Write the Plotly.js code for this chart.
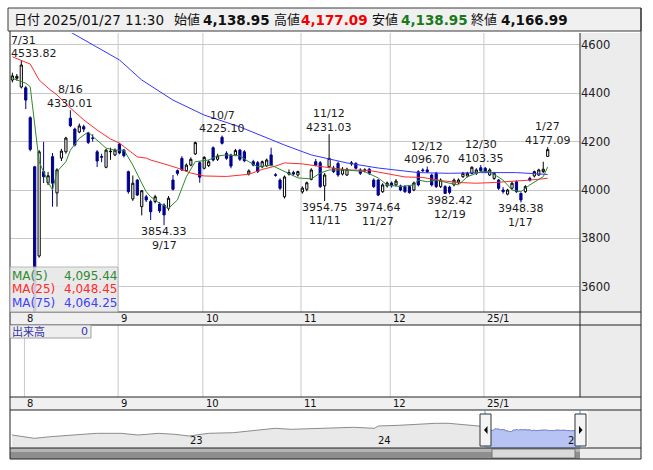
<!DOCTYPE html>
<html><head><meta charset="utf-8">
<script src="https://cdn.plot.ly/plotly-3.0.1.min.js"></script>
<style>html,body{margin:0;padding:0;background:#fff;}#chart{width:653px;height:470px;}</style>
</head><body><div id="chart"></div>
<script>
// ---------- data ----------
const dates = ['2024-07-29','2024-07-30','2024-07-31',
'2024-08-01','2024-08-02','2024-08-05','2024-08-06','2024-08-07','2024-08-08','2024-08-09','2024-08-13','2024-08-14','2024-08-15','2024-08-16','2024-08-19','2024-08-20','2024-08-21','2024-08-22','2024-08-23','2024-08-26','2024-08-27','2024-08-28','2024-08-29','2024-08-30',
'2024-09-02','2024-09-03','2024-09-04','2024-09-05','2024-09-06','2024-09-09','2024-09-10','2024-09-11','2024-09-12','2024-09-13','2024-09-17','2024-09-18','2024-09-19','2024-09-20','2024-09-24','2024-09-25','2024-09-26','2024-09-27','2024-09-30',
'2024-10-01','2024-10-02','2024-10-03','2024-10-04','2024-10-07','2024-10-08','2024-10-09','2024-10-10','2024-10-11','2024-10-15','2024-10-16','2024-10-17','2024-10-18','2024-10-21','2024-10-22','2024-10-23','2024-10-24','2024-10-25','2024-10-28','2024-10-29','2024-10-30','2024-10-31',
'2024-11-01','2024-11-05','2024-11-06','2024-11-07','2024-11-08','2024-11-11','2024-11-12','2024-11-13','2024-11-14','2024-11-15','2024-11-18','2024-11-19','2024-11-20','2024-11-21','2024-11-22','2024-11-25','2024-11-26','2024-11-27','2024-11-28','2024-11-29',
'2024-12-02','2024-12-03','2024-12-04','2024-12-05','2024-12-06','2024-12-09','2024-12-10','2024-12-11','2024-12-12','2024-12-13','2024-12-16','2024-12-17','2024-12-18','2024-12-19','2024-12-20','2024-12-23','2024-12-24','2024-12-25','2024-12-26','2024-12-27','2024-12-30',
'2025-01-06','2025-01-07','2025-01-08','2025-01-09','2025-01-10','2025-01-14','2025-01-15','2025-01-16','2025-01-17','2025-01-20','2025-01-21','2025-01-22','2025-01-23','2025-01-24','2025-01-27'];

const open = [4455,4462,4426, 4423,4299,4096,3727,4076,4030,4138,3988,4132,4158,4297,4252,4240,4262,4236,4215,4158,4138,4094,4158,4145,
4190,4165,4076,3963,4041,3931,3972,3952,3952,3942,3938,3924,4041,4080,4131,4080,4103,4149,4113,
4090,4101,4175,4127,4218,4152,4145,4145,4165,4158,4066,4117,4113,4096,4100,4145,4063,4041,3972,4066,4072,4062,
3992,4003,4044,4117,4113,4017,4096,4091,4110,4066,4062,4108,4110,4083,4080,4086,4041,4041,3993,4017,
4029,4021,4017,4014,4014,4000,4076,4083,4083,4062,4069,4014,4014,4012,4021,4030,4055,4058,4069,4069,4092,
4090,4062,4048,4041,4000,3983,4007,4034,3986,3993,4048,4058,4062,4076,4138.95];
const high = [4485,4480,4533.82, 4430,4305,4100,4165,4199,4075,4153,4090,4170,4220,4330.01,4258,4275,4270,4240,4230,4165,4150,4170,4175,4172,
4195,4170,4080,4060,4045,4000,3980,3960,3980,3950,3945,3975,4062,4085,4140,4110,4135,4200,4120,
4140,4125,4180,4150,4225.10,4160,4150,4170,4170,4165,4085,4125,4120,4122,4130,4175,4070,4048,4060,4085,4080,4080,
4015,4035,4090,4128,4120,4070,4231.03,4100,4118,4095,4092,4120,4115,4090,4090,4092,4048,4045,4028,4035,
4035,4045,4022,4020,4020,4035,4082,4090,4096.70,4068,4075,4048,4020,4018,4048,4048,4075,4075,4098,4090,4103.35,
4095,4090,4075,4045,4012,4005,4035,4040,3990,4020,4055,4080,4088,4117,4177.09];
const low = [4445,4452,4420, 4335,4160,3400,3720,4029,4020,3931,3931,4120,4150,4260,4180,4235,4240,4190,4200,4095,4115,4090,4125,4140,
4148,4135,3985,3955,3975,3895,3950,3876,3945,3905,3854.33,3915,3998,4060,4078,4075,4098,4145,4030,
4085,4095,4118,4120,4188,4125,4090,4140,4120,4115,4060,4098,4070,4090,4095,4098,4055,4000,3965,4060,4060,4055,
3985,3995,4040,4098,4008,3954.75,4090,4070,4055,4060,4058,4100,4085,4062,4072,4062,4008,3974.64,3988,4010,
4010,4015,3995,3988,3985,3995,4015,4075,4070,4015,4008,4008,3984,3982.42,4015,4025,4050,4052,4065,4062,4075,
4070,4058,4042,4000,3985,3978,4002,3988,3948.38,3988,4035,4052,4058,4070,4138.95];
const close = [4472,4470,4517, 4372,4168,3440,4158,4055,4059,4028,4083,4161,4215,4266,4186,4265,4252,4197,4214,4120,4136,4165,4160,4165,
4153,4142,3993,4028,3979,3997,3959,3910,3972,3914,3897,3966,4003,4069,4083,4103,4127,4196,4053,
4135,4117,4124,4141,4193,4131,4099,4163,4127,4121,4079,4103,4076,4117,4124,4103,4061,4007,4054,4072,4066,4076,
4008,4030,4083,4103,4014,4062,4131,4076,4062,4086,4086,4112,4090,4069,4083,4069,4014,3979,4021,4029,
4017,4037,4000,3993,3989,4029,4021,4080,4076,4021,4014,4041,3986,3990,4041,4041,4069,4069,4094,4083,4080,
4076,4083,4069,4007,3993,4000,4028,3993,3959,4014,4041,4076,4083,4086,4166.99];

const ma5Dates = ['2024-07-29','2024-07-31','2024-08-01','2024-08-02','2024-08-05','2024-08-06','2024-08-08','2024-08-09','2024-08-13','2024-08-15','2024-08-16','2024-08-20','2024-08-22','2024-08-23','2024-08-28','2024-08-30','2024-09-03','2024-09-05','2024-09-09','2024-09-10','2024-09-11','2024-09-13','2024-09-18','2024-09-20','2024-09-25','2024-09-27','2024-10-02','2024-10-04','2024-10-08','2024-10-11','2024-10-16','2024-10-18','2024-10-23','2024-10-28','2024-10-31','2024-11-06','2024-11-08','2024-11-12','2024-11-18','2024-11-22','2024-11-27','2024-11-29','2024-12-04','2024-12-09','2024-12-10','2024-12-12','2024-12-16','2024-12-19','2024-12-23','2024-12-25','2024-12-30','2025-01-07','2025-01-10','2025-01-15','2025-01-17','2025-01-21','2025-01-24','2025-01-27'];
const ma5Vals = [4462,4448,4442,4427,4283,4117,4034,4000,4076,4117,4165,4214,4240,4222,4173,4165,4165,4103,4028,3993,3972,3945,3924,3959,4055,4117,4124,4141,4145,4141,4117,4096,4103,4076,4050,4046,4070,4083,4083,4076,4050,4021,4014,4021,4041,4034,4041,4028,4021,4055,4076,4076,4041,4000,3993,4021,4055,4095.44];

const ma25Dates = ['2024-07-29','2024-07-31','2024-08-02','2024-08-05','2024-08-06','2024-08-08','2024-08-13','2024-08-16','2024-08-21','2024-08-26','2024-08-29','2024-09-02','2024-09-04','2024-09-06','2024-09-10','2024-09-11','2024-09-17','2024-09-20','2024-09-26','2024-10-01','2024-10-08','2024-10-16','2024-10-21','2024-10-24','2024-10-28','2024-11-01','2024-11-11','2024-11-18','2024-11-25','2024-11-29','2024-12-05','2024-12-11','2024-12-17','2024-12-23','2024-12-27','2025-01-08','2025-01-15','2025-01-21','2025-01-27'];
const ma25Vals = [4551,4535,4521,4488,4455,4422,4393,4339,4290,4248,4211,4194,4165,4137,4132,4124,4108,4091,4070,4058,4056,4065,4085,4099,4112,4108,4095,4083,4081,4066,4054,4052,4039,4031,4028,4031,4035,4041,4048.45];

const ma75Dates = ['2024-07-29','2024-08-07','2024-08-19','2024-09-02','2024-09-09','2024-09-19','2024-10-01','2024-10-11','2024-10-28','2024-11-06','2024-11-18','2024-11-27','2024-12-10','2024-12-19','2024-12-30','2025-01-16','2025-01-27'];
const ma75Vals = [4790,4716,4641,4538,4455,4372,4310,4261,4186,4145,4112,4091,4072,4069,4072,4072,4064.25];

const navDates = ['2022-01-24','2022-02-21','2022-03-08','2022-04-09','2022-05-27','2022-07-06','2022-08-23','2022-09-25','2022-11-03','2022-12-05','2023-01-01','2023-02-08','2023-03-28','2023-05-16','2023-06-17','2023-07-18','2023-09-05','2023-10-07','2023-11-16','2023-12-26','2024-01-03','2024-02-12','2024-03-14','2024-04-23','2024-05-17','2024-06-02','2024-07-13'];
const navVals = [3460,3247,3038,3247,3460,3674,3674,3460,3674,3550,3332,3674,3755,4100,4318,4190,4318,4394,4446,4318,4612,4702,4830,4958,4958,4868,4612];

const yTicks = [3600,3800,4000,4200,4400,4600];
const monthLabels = ['8','9','10','11','12','25/1'];
const monthFirst = ['2024-08-01','2024-09-02','2024-10-01','2024-11-01','2024-12-02','2025-01-06'];
const highMarks = ['2024-07-31','2024-08-16','2024-10-07','2024-11-12','2024-12-12','2024-12-30','2025-01-27'];
const lowMarks = ['2024-09-17','2024-11-11','2024-11-27','2024-12-19','2025-01-17'];
const maLegend = [['MA(5)','4,095.44'],['MA(25)','4,048.45'],['MA(75)','4,064.25']];
const header = {date:'2025/01/27 11:30', open:'4,138.95', high:'4,177.09', low:'4,138.95', close:'4,166.99'};
const navYears = [['2023-01-01','23'],['2024-01-01','24'],['2025-01-01','2']];

// ---------- helpers ----------
const W = 653, H = 470;
const px = x => x / W, py = y => 1 - y / H;
const pos = d => dates.indexOf(d);
const idx = dates.map((d, i) => i);
const FONT = 'DejaVu Sans, Noto Sans CJK JP, sans-serif';
const short = d => { const p = d.split('-'); return (+p[1]) + '/' + (+p[2]); };
const fmt = v => v.toFixed(2);

const cMA5 = '#2f8a2f', cMA25 = '#ff2b2b', cMA75 = '#3535ff', cDown = '#00008f';

const traces = [
  {type:'candlestick', x: idx, open, high, low, close, xaxis:'x', yaxis:'y',
   increasing:{line:{color:'#000', width:1}, fillcolor:'#fff'},
   decreasing:{line:{color:cDown, width:1}, fillcolor:cDown},
   whiskerwidth:0, hoverinfo:'skip', showlegend:false},
  {type:'scatter', mode:'lines', x: ma75Dates.map(pos), y: ma75Vals, line:{color:cMA75, width:1}, hoverinfo:'skip', showlegend:false},
  {type:'scatter', mode:'lines', x: ma25Dates.map(pos), y: ma25Vals, line:{color:cMA25, width:1}, hoverinfo:'skip', showlegend:false},
  {type:'scatter', mode:'lines', x: ma5Dates.map(pos), y: ma5Vals, line:{color:cMA5, width:1}, hoverinfo:'skip', showlegend:false},
  {type:'scatter', mode:'lines', x: navDates.concat(dates), y: navVals.concat(close), xaxis:'x3', yaxis:'y3',
   fill:'tozeroy', fillcolor:'#e9e9e9', line:{color:'#8c8c8c', width:1}, hoverinfo:'skip', showlegend:false},
  {type:'scatter', mode:'lines', x: dates, y: close, xaxis:'x3', yaxis:'y3',
   fill:'tozeroy', fillcolor:'#b7c3f3', line:{color:'#7a88d8', width:1}, hoverinfo:'skip', showlegend:false}
];

const shapes = [];
const rect = (x0,y0,x1,y1,fill,line,layer,opacity) => shapes.push({type:'rect', xref:'paper', yref:'paper', x0:px(x0), x1:px(x1), y0:py(y1), y1:py(y0), fillcolor:fill, line:{color:line||'rgba(0,0,0,0)', width:line?1:0}, layer:layer||'below', opacity: opacity==null?1:opacity});
const hline = (x0,x1,y,color) => shapes.push({type:'line', xref:'paper', yref:'paper', x0:px(x0), x1:px(x1), y0:py(y), y1:py(y), line:{color, width:1}, layer:'above'});
const vline = (x,y0,y1,color) => shapes.push({type:'line', xref:'paper', yref:'paper', x0:px(x), x1:px(x), y0:py(y0), y1:py(y1), line:{color, width:1}, layer:'above'});

// header
rect(8,8,641,31,'#f0f0f0','#3a3a3a','below');
// right columns
rect(580,33,641,312,'#ececec',null,'below');
rect(580,325,641,397,'#ececec',null,'below');
rect(588,410,641,448,'#ececec',null,'below');
// date strips
rect(10,312,641,325,'#f0f0f0',null,'below');
rect(10,397,641,410,'#f0f0f0',null,'below');
// scrollbar
rect(10,448,580,459,'#8e8e8e',null,'below');
rect(10,448,580,452,'#b5b5b5',null,'below');
rect(492,449,575,458,'#dadada','#777','above');
rect(580,448,641,459,'#ececec',null,'below');
// month grid lines (main + volume)
monthFirst.forEach((d,k) => {
  const xv = pos(d) - 0.3;
  if (k > 0) shapes.push({type:'line', xref:'x', yref:'paper', x0:xv, x1:xv, y0:py(312), y1:py(33), line:{color:'#c8c8c8', width:1}, layer:'below'});
  shapes.push({type:'line', xref:'x', yref:'paper', x0:xv, x1:xv, y0:py(397), y1:py(325), line:{color:'#c8c8c8', width:1}, layer:'below'});
});
// frame lines
vline(10,31,459,'#222');
vline(580,33,397,'#222');
vline(641,8,459,'#222');
hline(10,641,312,'#222'); hline(10,641,325,'#222');
hline(10,641,397,'#222'); hline(10,641,410,'#222');
hline(10,641,448,'#222'); hline(10,641,459,'#222');
// navigator selection edges and handles
vline(485,410,448,'#2ea0dc'); vline(580,410,448,'#2ea0dc');
rect(480,414,491,446,'#f4f4f4','#333','above');
rect(575,414,586,446,'#f4f4f4','#333','above');
shapes.push({type:'path', xref:'paper', yref:'paper', path:`M ${px(487.5)} ${py(426)} L ${px(484)} ${py(430)} L ${px(487.5)} ${py(434)} Z`, fillcolor:'#000', line:{width:0}, layer:'above'});
shapes.push({type:'path', xref:'paper', yref:'paper', path:`M ${px(579)} ${py(426)} L ${px(582.5)} ${py(430)} L ${px(579)} ${py(434)} Z`, fillcolor:'#000', line:{width:0}, layer:'above'});
// MA legend box and volume label box
rect(10,267,118,312,'#e6e6e6','#b0b0b0','above',0.88);
rect(10,325,91,338,'#eeeeee','#a0a0a0','above');

const ann = [];
const txt = (x,y,text,opt) => ann.push(Object.assign({xref:'paper', yref:'paper', x:px(x), y:py(y), text, showarrow:false, xanchor:'left', yanchor:'middle', borderpad:0, font:{family:FONT, size:12, color:'#111'}}, opt||{}));

// header texts
const hs = 13.5;
txt(12.5,19.5,'日付',{font:{family:FONT,size:13,color:'#111'}});
txt(41.5,19.5,header.date,{font:{family:FONT,size:hs,color:'#111'}});
txt(173,19.5,'始値',{font:{family:FONT,size:13,color:'#111'}});
txt(201.5,19.5,'<b>'+header.open+'</b>',{font:{family:FONT,size:hs,color:'#111'}});
txt(272.5,19.5,'高値',{font:{family:FONT,size:13,color:'#111'}});
txt(299.5,19.5,'<b>'+header.high+'</b>',{font:{family:FONT,size:hs,color:'#f00000'}});
txt(370.5,19.5,'安値',{font:{family:FONT,size:13,color:'#111'}});
txt(399.5,19.5,'<b>'+header.low+'</b>',{font:{family:FONT,size:hs,color:'#1a7a1a'}});
txt(470,19.5,'終値',{font:{family:FONT,size:13,color:'#111'}});
txt(499.5,19.5,'<b>'+header.close+'</b>',{font:{family:FONT,size:hs,color:'#111'}});

// month labels in both strips
monthFirst.forEach((d,k) => {
  [318.5, 403.5].forEach(yy => ann.push({xref:'x', yref:'paper', x: pos(d)-0.3, y: py(yy), xshift:2, text: monthLabels[k], showarrow:false, xanchor:'left', yanchor:'middle', borderpad:0, font:{family:FONT, size:10, color:'#111'}}));
});

// high / low marks
const LF = 11;
highMarks.forEach(d => {
  const i = pos(d), v = high[i];
  ann.push({xref:'x', yref:'y', x:i, y:v, yshift:7, text: fmt(v), showarrow:false, xanchor:'center', yanchor:'middle', borderpad:0, font:{family:FONT, size:LF, color:'#1c1c1c'}});
  ann.push({xref:'x', yref:'y', x:i, y:v, yshift:20.5, text: short(d), showarrow:false, xanchor:'center', yanchor:'middle', borderpad:0, font:{family:FONT, size:LF, color:'#1c1c1c'}});
});
const lowShift = {'2024-11-27':5};
lowMarks.forEach(d => {
  const i = pos(d), v = low[i], e = lowShift[d] || 0;
  ann.push({xref:'x', yref:'y', x:i, y:v, yshift:-6.5-e, text: fmt(v), showarrow:false, xanchor:'center', yanchor:'middle', borderpad:0, font:{family:FONT, size:LF, color:'#1c1c1c'}});
  ann.push({xref:'x', yref:'y', x:i, y:v, yshift:-20-e, text: short(d), showarrow:false, xanchor:'center', yanchor:'middle', borderpad:0, font:{family:FONT, size:LF, color:'#1c1c1c'}});
});
// first label is kept inside the plot
ann.forEach(a => { if (a.xref==='x' && a.yref==='y' && a.x===pos('2024-07-31')) { a.xanchor='left'; a.x=-0.45; } });

// MA legend
const maCols = [cMA5, cMA25, '#4040ff'];
maLegend.forEach((m,k) => {
  const yy = 276 + k*13.3;
  txt(11,yy,m[0],{font:{family:FONT,size:12,color:maCols[k]}});
  txt(117.5,yy,m[1],{xanchor:'right',font:{family:FONT,size:12,color:maCols[k]}});
});
// volume label
txt(11,331.5,'出来高',{font:{family:FONT,size:11,color:'#3333aa'}});
txt(89,331.5,'0',{xanchor:'right',font:{family:FONT,size:11,color:'#3333aa'}});
// navigator year labels
navYears.forEach(n => ann.push({xref:'x3', yref:'paper', x:n[0], y:py(440), text:n[1], showarrow:false, xanchor:'left', yanchor:'middle', borderpad:0, font:{family:FONT, size:10, color:'#111'}}));

const layout = {
  width: W, height: H, margin:{l:0,r:0,t:0,b:0},
  paper_bgcolor:'#fff', plot_bgcolor:'rgba(0,0,0,0)', showlegend:false,
  xaxis:{domain:[px(10),px(580)], range:[-0.534,127.24], showgrid:false, zeroline:false, showticklabels:false, ticks:'', fixedrange:true, rangeslider:{visible:false}, anchor:'y'},
  yaxis:{domain:[py(312),py(33)], range:[3495.3,4649.5], side:'right', tickmode:'array', tickvals:yTicks, ticktext:yTicks.map(String), showgrid:true, gridcolor:'#c8c8c8', gridwidth:1, zeroline:false, ticks:'', tickfont:{family:FONT,size:11.5,color:'#222'}, fixedrange:true, anchor:'x'},
  xaxis3:{domain:[px(10),px(580)], type:'date', range:['2022-01-20','2025-01-27'], showgrid:false, zeroline:false, showticklabels:false, ticks:'', anchor:'y3', fixedrange:true},
  yaxis3:{domain:[py(448),py(410)], range:[1796,6660], visible:false, fixedrange:true, anchor:'x3'},
  shapes, annotations: ann
};
Plotly.newPlot('chart', traces, layout, {staticPlot:true, displayModeBar:false});
</script></body></html>
